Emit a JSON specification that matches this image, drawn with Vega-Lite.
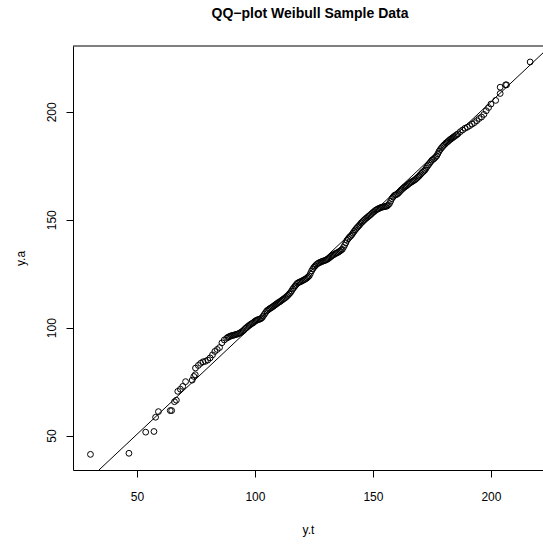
{
  "$schema": "https://vega.github.io/schema/vega-lite/v6.json",
  "autosize": {"type": "none"},
  "padding": {"left": 73, "top": 46, "right": 0, "bottom": 74},
  "width": 470,
  "height": 424,
  "background": "white",
  "config": {
    "view": {"stroke": null},
    "font": "Liberation Sans",
    "axis": {"grid": false, "domainColor": "black", "domainWidth": 1, "tickColor": "black", "tickSize": 7, "labelColor": "black", "titleColor": "black", "labelFontSize": 12, "titleFontSize": 12, "titleFontWeight": "normal", "labelFont": "Liberation Sans", "titleFont": "Liberation Sans"}
  },
  "title": {"text": "QQ−plot Weibull Sample Data", "fontSize": 14, "fontWeight": "bold", "font": "Liberation Sans", "color": "black", "anchor": "middle", "baseline": "alphabetic", "offset": 14, "dx": 2},
  "datasets": {
    "pts": [
      {"yt": 30.3, "ya": 41.3}, {"yt": 46.6, "ya": 41.8}, {"yt": 53.7, "ya": 51.6}, {"yt": 57.2, "ya": 51.9},
      {"yt": 57.9, "ya": 58.5}, {"yt": 59.1, "ya": 61.1}, {"yt": 64.1, "ya": 61.6}, {"yt": 64.7, "ya": 61.6},
      {"yt": 65.9, "ya": 65.7}, {"yt": 66.7, "ya": 66.4}, {"yt": 67.3, "ya": 70.5}, {"yt": 68.4, "ya": 71.5},
      {"yt": 69.4, "ya": 72.8}, {"yt": 70.6, "ya": 75.0}, {"yt": 73.4, "ya": 75.7}, {"yt": 74.1, "ya": 77.4},
      {"yt": 74.7, "ya": 78.2}, {"yt": 74.8, "ya": 81.3},
      {"yt": 76.0, "ya": 82.5}, {"yt": 77.0, "ya": 83.5}, {"yt": 78.0, "ya": 84.2}, {"yt": 79.0, "ya": 84.4},
      {"yt": 80.0, "ya": 85.0}, {"yt": 81.0, "ya": 86.0}, {"yt": 82.0, "ya": 87.4}, {"yt": 83.0, "ya": 89.0},
      {"yt": 84.0, "ya": 89.9}, {"yt": 85.0, "ya": 90.8}, {"yt": 86.0, "ya": 93.0}, {"yt": 87.0, "ya": 94.3},
      {"yt": 88.0, "ya": 95.1}, {"yt": 89.0, "ya": 95.8}, {"yt": 90.0, "ya": 96.3}, {"yt": 91.0, "ya": 96.5},
      {"yt": 92.0, "ya": 96.9}, {"yt": 93.0, "ya": 97.2}, {"yt": 94.0, "ya": 97.8}, {"yt": 95.0, "ya": 98.6},
      {"yt": 96.0, "ya": 99.7}, {"yt": 97.0, "ya": 100.6}, {"yt": 98.0, "ya": 101.4}, {"yt": 99.0, "ya": 102.1},
      {"yt": 100.0, "ya": 103.0}, {"yt": 101.0, "ya": 103.6}, {"yt": 102.0, "ya": 103.9}, {"yt": 103.0, "ya": 104.6},
      {"yt": 104.0, "ya": 106.2}, {"yt": 105.0, "ya": 107.8}, {"yt": 106.0, "ya": 108.6}, {"yt": 107.0, "ya": 109.3},
      {"yt": 108.0, "ya": 110.1}, {"yt": 109.0, "ya": 110.9}, {"yt": 110.0, "ya": 111.7}, {"yt": 111.0, "ya": 112.4},
      {"yt": 112.0, "ya": 113.2}, {"yt": 113.0, "ya": 114.0}, {"yt": 114.0, "ya": 115.0}, {"yt": 115.0, "ya": 116.2},
      {"yt": 116.0, "ya": 117.9}, {"yt": 117.0, "ya": 119.3}, {"yt": 118.0, "ya": 120.6}, {"yt": 119.0, "ya": 121.2},
      {"yt": 120.0, "ya": 121.7}, {"yt": 121.0, "ya": 122.3}, {"yt": 122.0, "ya": 123.0}, {"yt": 123.0, "ya": 124.0},
      {"yt": 124.0, "ya": 126.3}, {"yt": 125.0, "ya": 128.0}, {"yt": 126.0, "ya": 129.2}, {"yt": 127.0, "ya": 130.0},
      {"yt": 128.0, "ya": 130.5}, {"yt": 129.0, "ya": 130.9}, {"yt": 130.0, "ya": 131.3}, {"yt": 131.0, "ya": 131.9},
      {"yt": 132.0, "ya": 132.8}, {"yt": 133.0, "ya": 133.6}, {"yt": 134.0, "ya": 134.3}, {"yt": 135.0, "ya": 134.8},
      {"yt": 136.0, "ya": 135.5}, {"yt": 137.0, "ya": 136.3}, {"yt": 138.0, "ya": 138.2}, {"yt": 139.0, "ya": 140.5},
      {"yt": 140.0, "ya": 141.9}, {"yt": 141.0, "ya": 143.0}, {"yt": 142.0, "ya": 144.6}, {"yt": 143.0, "ya": 146.0},
      {"yt": 144.0, "ya": 147.2}, {"yt": 145.0, "ya": 148.5}, {"yt": 146.0, "ya": 149.6}, {"yt": 147.0, "ya": 150.6},
      {"yt": 148.0, "ya": 151.5}, {"yt": 149.0, "ya": 152.4}, {"yt": 150.0, "ya": 153.4}, {"yt": 151.0, "ya": 154.3},
      {"yt": 152.0, "ya": 155.0}, {"yt": 153.0, "ya": 155.5}, {"yt": 154.0, "ya": 155.9}, {"yt": 155.0, "ya": 156.1},
      {"yt": 156.0, "ya": 156.4}, {"yt": 157.0, "ya": 157.5}, {"yt": 158.0, "ya": 159.8}, {"yt": 159.0, "ya": 161.2},
      {"yt": 160.0, "ya": 161.7}, {"yt": 161.0, "ya": 162.6}, {"yt": 162.0, "ya": 163.8}, {"yt": 163.0, "ya": 164.8},
      {"yt": 164.0, "ya": 165.6}, {"yt": 165.0, "ya": 166.5}, {"yt": 166.0, "ya": 167.3}, {"yt": 167.0, "ya": 168.0},
      {"yt": 168.0, "ya": 168.7}, {"yt": 169.0, "ya": 169.7}, {"yt": 170.0, "ya": 170.8}, {"yt": 171.0, "ya": 172.0},
      {"yt": 172.0, "ya": 173.0}, {"yt": 173.0, "ya": 174.7}, {"yt": 174.0, "ya": 176.2}, {"yt": 175.0, "ya": 177.6},
      {"yt": 176.0, "ya": 178.4}, {"yt": 177.0, "ya": 179.6}, {"yt": 178.0, "ya": 181.7}, {"yt": 179.0, "ya": 183.2},
      {"yt": 180.0, "ya": 184.5}, {"yt": 181.0, "ya": 185.6}, {"yt": 182.0, "ya": 186.5}, {"yt": 183.0, "ya": 187.4},
      {"yt": 184.0, "ya": 188.2}, {"yt": 185.0, "ya": 189.0}, {"yt": 186.0, "ya": 189.8}, {"yt": 187.0, "ya": 190.8},
      {"yt": 188.0, "ya": 191.6}, {"yt": 189.0, "ya": 192.4}, {"yt": 190.0, "ya": 192.9}, {"yt": 191.0, "ya": 193.6},
      {"yt": 192.0, "ya": 194.3}, {"yt": 193.0, "ya": 195.0}, {"yt": 194.0, "ya": 195.9}, {"yt": 195.0, "ya": 196.9},
      {"yt": 196.0, "ya": 197.6}, {"yt": 197.0, "ya": 198.8}, {"yt": 198.0, "ya": 200.5}, {"yt": 199.0, "ya": 202.0},
      {"yt": 200.0, "ya": 203.6}, {"yt": 202.0, "ya": 205.3}, {"yt": 203.9, "ya": 208.5}, {"yt": 203.9, "ya": 211.4},
      {"yt": 206.2, "ya": 212.5}, {"yt": 206.6, "ya": 212.5}, {"yt": 216.6, "ya": 223.1},
      {"yt": 88.5, "ya": 95.5}, {"yt": 89.5, "ya": 96.0}, {"yt": 90.5, "ya": 96.4}, {"yt": 91.5, "ya": 96.7},
      {"yt": 92.5, "ya": 97.0}, {"yt": 93.5, "ya": 97.5}, {"yt": 94.5, "ya": 98.2}, {"yt": 95.5, "ya": 99.1},
      {"yt": 96.5, "ya": 100.1}, {"yt": 97.5, "ya": 101.0}, {"yt": 98.5, "ya": 101.8}, {"yt": 99.5, "ya": 102.5},
      {"yt": 100.5, "ya": 103.3}, {"yt": 101.5, "ya": 103.8}, {"yt": 102.5, "ya": 104.2}, {"yt": 103.5, "ya": 105.4},
      {"yt": 104.5, "ya": 107.0}, {"yt": 105.5, "ya": 108.2}, {"yt": 106.5, "ya": 109.0}, {"yt": 107.5, "ya": 109.7},
      {"yt": 108.5, "ya": 110.5}, {"yt": 109.5, "ya": 111.3}, {"yt": 110.5, "ya": 112.0}, {"yt": 111.5, "ya": 112.8},
      {"yt": 112.5, "ya": 113.6}, {"yt": 113.5, "ya": 114.5}, {"yt": 114.5, "ya": 115.6}, {"yt": 115.5, "ya": 117.0},
      {"yt": 116.5, "ya": 118.6}, {"yt": 117.5, "ya": 120.0}, {"yt": 118.5, "ya": 120.9}, {"yt": 119.5, "ya": 121.4},
      {"yt": 120.5, "ya": 122.0}, {"yt": 121.5, "ya": 122.6}, {"yt": 122.5, "ya": 123.5}, {"yt": 123.5, "ya": 125.1},
      {"yt": 124.5, "ya": 127.2}, {"yt": 125.5, "ya": 128.6}, {"yt": 126.5, "ya": 129.6}, {"yt": 127.5, "ya": 130.2},
      {"yt": 128.5, "ya": 130.7}, {"yt": 129.5, "ya": 131.1}, {"yt": 130.5, "ya": 131.6}, {"yt": 131.5, "ya": 132.3},
      {"yt": 132.5, "ya": 133.2}, {"yt": 133.5, "ya": 133.9}, {"yt": 134.5, "ya": 134.5}, {"yt": 135.5, "ya": 135.1},
      {"yt": 136.5, "ya": 135.9}, {"yt": 137.5, "ya": 137.2}, {"yt": 138.5, "ya": 139.3}, {"yt": 139.5, "ya": 141.2},
      {"yt": 140.5, "ya": 142.4}, {"yt": 141.5, "ya": 143.8}, {"yt": 142.5, "ya": 145.3}, {"yt": 143.5, "ya": 146.6},
      {"yt": 144.5, "ya": 147.8}, {"yt": 145.5, "ya": 149.0}, {"yt": 146.5, "ya": 150.1}, {"yt": 147.5, "ya": 151.0},
      {"yt": 148.5, "ya": 151.9}, {"yt": 149.5, "ya": 152.9}, {"yt": 150.5, "ya": 153.8}, {"yt": 151.5, "ya": 154.6},
      {"yt": 152.5, "ya": 155.2}, {"yt": 153.5, "ya": 155.7}, {"yt": 154.5, "ya": 156.0}, {"yt": 155.5, "ya": 156.2},
      {"yt": 156.5, "ya": 156.9}, {"yt": 157.5, "ya": 158.6}, {"yt": 158.5, "ya": 160.5}, {"yt": 159.5, "ya": 161.5},
      {"yt": 160.5, "ya": 162.1}, {"yt": 161.5, "ya": 163.2}, {"yt": 162.5, "ya": 164.3}, {"yt": 163.5, "ya": 165.2},
      {"yt": 164.5, "ya": 166.0}, {"yt": 165.5, "ya": 166.9}, {"yt": 166.5, "ya": 167.6}, {"yt": 167.5, "ya": 168.3},
      {"yt": 168.5, "ya": 169.2}, {"yt": 169.5, "ya": 170.2}, {"yt": 170.5, "ya": 171.4}, {"yt": 171.5, "ya": 172.5},
      {"yt": 172.5, "ya": 173.8}, {"yt": 173.5, "ya": 175.4}, {"yt": 174.5, "ya": 176.9}, {"yt": 175.5, "ya": 178.0},
      {"yt": 176.5, "ya": 179.0}, {"yt": 177.5, "ya": 180.6}, {"yt": 178.5, "ya": 182.5}, {"yt": 179.5, "ya": 183.9},
      {"yt": 180.5, "ya": 185.0}, {"yt": 181.5, "ya": 186.0}, {"yt": 182.5, "ya": 187.0}, {"yt": 183.5, "ya": 187.8},
      {"yt": 184.5, "ya": 188.6}, {"yt": 185.5, "ya": 189.4}
    ],
    "qqline": [
      {"yt": 33.9, "ya": 34.06},
      {"yt": 222.05, "ya": 227.3}
    ]
  },
  "encoding": {
    "x": {"field": "yt", "type": "quantitative", "title": "y.t",
      "scale": {"domain": [22.9, 222.05], "nice": false, "zero": false},
      "axis": {"values": [50, 100, 150, 200], "labelPadding": 14, "titleBaseline": "alphabetic", "titleY": 63, "titleX": 235, "labelFlush": false}},
    "y": {"field": "ya", "type": "quantitative", "title": "y.a",
      "scale": {"domain": [34.06, 230.5], "nice": false, "zero": false},
      "axis": {"values": [50, 100, 150, 200], "labelAngle": 270, "labelAlign": "center", "labelBaseline": "alphabetic", "labelPadding": 11, "titleBaseline": "alphabetic", "titleAngle": 270, "titleX": -49, "titleY": 212, "labelFlush": false}}
  },
  "layer": [
    {"data": {"name": "pts"},
     "mark": {"type": "point", "shape": "circle", "filled": false, "color": "black", "size": 34, "strokeWidth": 1, "opacity": 1}},
    {"data": {"name": "qqline"},
     "mark": {"type": "line", "color": "black", "strokeWidth": 1}},
    {"data": {"values": [{}]},
     "mark": {"type": "rule", "color": "black", "strokeWidth": 1},
     "encoding": {"x": {"value": 0}, "x2": {"value": 470}, "y": {"value": 0}}}
  ]
}
